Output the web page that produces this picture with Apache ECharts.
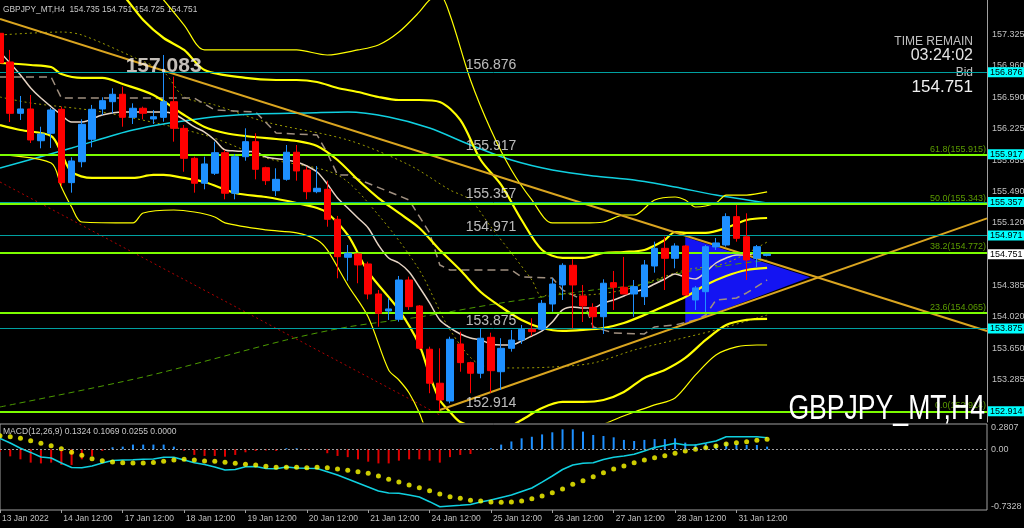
<!DOCTYPE html>
<html><head><meta charset="utf-8">
<script src="https://cdn.jsdelivr.net/npm/echarts@6/dist/echarts.min.js"></script>
<style>html,body{margin:0;padding:0;background:#000;}#c{width:1024px;height:528px;}</style>
</head><body><div id="c"></div>
<script>
const FONT = 'Liberation Sans';
// ---------- DATA ----------
const xTickLabels = ['13 Jan 2022','14 Jan 12:00','17 Jan 12:00','18 Jan 12:00','19 Jan 12:00','20 Jan 12:00','21 Jan 12:00','24 Jan 12:00','25 Jan 12:00','26 Jan 12:00','27 Jan 12:00','28 Jan 12:00','31 Jan 12:00'];
const barsPerDay = 6;
const barOpen  = [157.337,157.001,156.400,156.451,156.079,156.166,156.447,155.588,155.833,156.096,156.451,156.536,156.623,156.353,156.459,156.334,156.353,156.536,156.224,155.873,155.581,155.698,155.939,155.464,155.892,156.068,155.763,155.494,155.627,155.944,155.736,155.482,155.510,155.159,154.714,154.753,154.636,154.284,154.085,153.988,154.448,154.144,153.637,153.239,153.031,153.699,153.480,153.356,153.777,153.374,153.648,153.745,153.871,153.871,154.167,154.390,154.620,154.261,154.128,154.018,154.417,154.363,154.284,154.253,154.612,154.819,154.702,154.846,154.214,154.311,154.835,154.858,155.190,154.955,154.702,154.735];
const barHigh  = [157.376,157.142,156.603,156.615,156.243,156.462,156.478,155.885,156.330,156.498,156.588,156.693,156.712,156.517,156.478,156.439,157.083,156.829,156.263,155.892,155.892,156.068,155.971,155.924,156.224,156.166,155.775,155.756,156.029,156.029,155.775,155.783,155.611,155.198,154.858,154.761,154.662,154.331,154.237,154.495,154.487,154.155,153.667,153.648,153.784,153.843,153.491,153.883,153.831,153.766,153.863,153.921,154.000,154.214,154.468,154.644,154.690,154.390,154.175,154.456,154.554,154.718,154.448,154.682,154.897,154.955,154.878,154.858,154.378,154.858,154.940,155.229,155.327,155.229,154.858,154.751];
const barLow   = [156.954,156.298,156.322,156.052,155.990,155.994,155.549,155.471,155.768,156.002,156.380,156.400,156.243,156.275,156.330,156.275,156.302,156.068,155.716,155.471,155.510,155.678,155.393,155.393,155.845,155.627,155.561,155.432,155.611,155.611,155.393,155.464,155.072,154.468,154.440,154.410,154.222,153.901,153.980,153.960,154.097,153.628,153.122,152.914,153.004,153.374,153.122,153.297,153.129,153.160,153.609,153.699,153.792,153.855,154.077,154.214,153.883,153.956,153.883,153.816,154.097,154.319,154.018,154.155,154.534,154.331,154.585,154.263,154.097,154.073,154.800,154.838,154.897,154.448,154.597,154.725];
const barClose = [156.989,156.400,156.451,156.088,156.158,156.439,155.588,155.842,156.271,156.447,156.548,156.623,156.353,156.459,156.400,156.360,156.536,156.224,155.873,155.581,155.807,155.939,155.464,155.892,156.068,155.744,155.611,155.627,155.944,155.725,155.482,155.522,155.159,154.721,154.761,154.624,154.284,154.058,154.109,154.448,154.136,153.648,153.239,153.043,153.754,153.480,153.356,153.766,153.386,153.648,153.745,153.871,153.843,154.175,154.401,154.620,154.390,154.144,154.018,154.410,154.363,154.284,154.370,154.624,154.819,154.702,154.846,154.273,154.355,154.838,154.882,155.190,154.936,154.682,154.838,154.751];

const priceTicks = [157.325,156.960,156.590,156.225,155.855,155.490,155.120,154.385,154.020,153.650,153.285];
const tealLevels = [156.876,155.917,155.357,154.971,153.875,152.914];
const fibLevels  = [155.915,155.343,154.772,154.065,152.914];
const fibNames   = ['61.8','50.0','38.2','23.6','0.0'];
const bidPrice = 154.751;
const highMark = 157.083;
const highMarkBar = 16;
const textAnchorBar = 45;

const bandMid = [[0,156.989],[3,156.966],[5,156.942],[6,156.860],[8,156.814],[10,156.814],[12,156.743],[15,156.615],[18,156.380],[20,156.240],[22,156.170],[24,156.134],[27,156.099],[29,156.076],[31,156.017],[33,155.853],[35,155.619],[37,155.408],[39,155.233],[41,155.057],[43,154.800],[45,154.565],[47,154.308],[49,154.132],[51,153.980],[53,153.886],[55,153.851],[57,153.863],[59,153.886],[61,153.945],[63,154.038],[65,154.144],[67,154.249],[69,154.390],[71,154.495],[73,154.565],[75,154.589]];
const bandLowerInner = [[0,156.263],[2,156.205],[5,156.134],[6,155.936],[7,155.713],[9,155.643],[13,155.643],[15,155.678],[16,155.678],[18,155.643],[20,155.596],[23,155.467],[26,155.420],[29,155.350],[31,155.291],[32,155.233],[34,154.975],[36,154.542],[39,154.097],[41,153.687],[42,153.336],[43,153.043],[44,152.902],[45,152.785],[47,152.715],[49,152.692],[51,152.809],[53,152.949],[55,153.020],[57,153.020],[59,153.043],[61,153.137],[63,153.301],[65,153.394],[67,153.535],[69,153.746],[71,153.921],[73,153.980],[75,153.992]];
const bandUpperInner = [[0,157.780],[5,157.800],[8,157.980],[10,157.980],[12,157.786],[14,157.493],[16,157.282],[18,157.142],[20,156.907],[24,156.814],[27,156.790],[29,156.790],[31,156.767],[33,156.697],[35,156.650],[37,156.591],[39,156.556],[41,156.556],[43,156.533],[45,156.322],[47,155.853],[49,155.561],[51,155.151],[53,154.800],[55,154.706],[57,154.706],[59,154.764],[61,154.776],[63,154.800],[65,154.917],[66,155.010],[67,154.999],[69,154.999],[71,155.057],[73,155.151],[75,155.174]];
const bandLowerOuter = [[0,155.912],[5,155.818],[6,155.537],[7,155.303],[8,155.127],[13,155.116],[14,155.233],[17,155.268],[19,155.244],[21,155.186],[22,155.116],[26,155.034],[29,154.999],[31,154.917],[32,154.800],[34,154.390],[36,154.015],[38,153.394],[39,153.277],[40,153.125],[41,152.891],[42,152.575],[44,152.106],[50,151.872],[56,152.575],[60,152.809],[62,152.902],[64,152.985],[66,153.067],[68,153.336],[70,153.570],[72,153.664],[74,153.687],[75,153.687]];
const bandUpperOuter = [[13,158.200],[15,157.844],[16,157.727],[18,157.434],[20,157.142],[24,157.142],[29,157.142],[32,157.083],[35,157.142],[37,157.200],[39,157.352],[41,157.587],[42,157.727],[43,157.786],[44,157.551],[46,156.790],[48,156.205],[50,155.736],[52,155.385],[54,155.116],[57,155.116],[59,155.127],[61,155.209],[62,155.209],[64,155.385],[66,155.420],[67,155.385],[68,155.303],[70,155.350],[71,155.443],[73,155.443],[75,155.479]];
const maFast = [[0,157.118],[2,156.849],[3,156.697],[4,156.579],[6,156.380],[7,156.298],[8,156.298],[10,156.380],[12,156.415],[16,156.415],[17,156.392],[18,156.322],[19,156.240],[20,156.181],[21,156.088],[22,155.971],[23,155.959],[25,155.947],[26,155.889],[28,155.853],[29,155.830],[30,155.783],[31,155.713],[32,155.572],[33,155.408],[34,155.291],[35,155.174],[36,155.057],[37,154.858],[38,154.706],[39,154.647],[40,154.542],[41,154.366],[42,154.179],[43,153.980],[44,153.886],[45,153.816],[46,153.769],[47,153.746],[48,153.699],[49,153.687],[50,153.687],[51,153.734],[52,153.792],[53,153.851],[54,153.956],[55,154.097],[56,154.132],[57,154.120],[58,154.120],[59,154.179],[60,154.214],[61,154.261],[62,154.308],[63,154.343],[64,154.401],[65,154.460],[66,154.518],[67,154.483],[68,154.460],[69,154.542],[70,154.647],[71,154.706],[72,154.741],[73,154.741],[74,154.765],[75,154.753]];
const maCyan = [[0,155.760],[7,155.994],[13,156.205],[20,156.345],[25,156.392],[30,156.404],[34,156.415],[38,156.357],[42,156.228],[46,156.029],[50,155.853],[54,155.736],[58,155.666],[62,155.619],[66,155.537],[70,155.443],[75,155.350]];
const stepLine = [[0,156.825],[5,156.825],[6,156.579],[19,156.579],[21,156.439],[25,156.415],[27,156.170],[31,156.146],[32,155.935],[33,155.678],[34,155.678],[40,155.385],[42,154.999],[43,154.624],[44,154.565],[50,154.565],[51,154.483],[54,154.472],[55,154.331],[57,154.214],[58,153.898],[60,153.828],[63,153.816],[64,153.898],[66,153.921],[68,153.980],[69,154.038],[70,154.214],[72,154.237],[73,154.296],[75,154.448]];
const oliveUpper = [[0,157.317],[6,157.352],[8,157.317],[13,157.060],[16,156.884],[18,156.591],[21,156.498],[26,156.298],[34,156.088],[40,155.795],[44,155.502],[46,155.385],[48,155.069],[50,154.764],[52,154.448],[53,154.249],[54,154.296],[57,154.273],[61,154.331],[64,154.448],[67,154.565],[71,154.647],[75,154.893]];
const oliveLower = [[0,156.591],[3,156.521],[10,156.415],[20,156.146],[26,155.877],[33,155.678],[37,155.209],[41,154.565],[44,153.863],[47,153.453],[50,153.418],[54,153.429],[58,153.476],[62,153.628],[66,153.746],[70,153.863],[75,154.038]];
const maSlowGreen = [[0,152.961],[14,153.312],[28,153.746],[34,153.898],[41,154.015],[49,154.179],[58,154.331],[63,154.401],[67,154.542],[75,154.682]];
const trendDown = [[0,157.505],[96.5,153.850]];
const trendUp = [[43,152.926],[96.5,155.170]];
const trendRed = [[0,155.596],[43,152.867]];
const triangleArea = [[67,154.952],[67,153.933],[79.2,154.480]];

const macdMain = [0.140,0.080,0.013,-0.040,-0.098,-0.111,-0.175,-0.232,-0.235,-0.213,-0.175,-0.143,-0.137,-0.133,-0.128,-0.124,-0.102,-0.102,-0.137,-0.171,-0.194,-0.226,-0.264,-0.258,-0.222,-0.220,-0.245,-0.248,-0.226,-0.239,-0.243,-0.245,-0.286,-0.328,-0.379,-0.430,-0.481,-0.533,-0.558,-0.562,-0.584,-0.609,-0.669,-0.733,-0.724,-0.715,-0.705,-0.673,-0.648,-0.616,-0.584,-0.539,-0.494,-0.418,-0.341,-0.258,-0.201,-0.179,-0.171,-0.130,-0.102,-0.086,-0.064,-0.022,0.023,0.049,0.077,0.055,0.055,0.080,0.106,0.161,0.161,0.161,0.161,0.148];
const macdSignal = [0.174,0.161,0.140,0.110,0.077,0.046,0.008,-0.038,-0.077,-0.120,-0.146,-0.162,-0.171,-0.175,-0.175,-0.167,-0.153,-0.137,-0.128,-0.137,-0.150,-0.153,-0.166,-0.179,-0.192,-0.200,-0.217,-0.230,-0.230,-0.230,-0.235,-0.230,-0.235,-0.251,-0.268,-0.286,-0.306,-0.341,-0.383,-0.418,-0.456,-0.490,-0.529,-0.571,-0.605,-0.626,-0.651,-0.660,-0.673,-0.677,-0.673,-0.660,-0.631,-0.596,-0.554,-0.507,-0.447,-0.401,-0.350,-0.299,-0.252,-0.213,-0.171,-0.137,-0.107,-0.082,-0.051,-0.022,0.000,0.020,0.042,0.067,0.084,0.097,0.115,0.128];
const macdHist = [-0.03,-0.09,-0.128,-0.17,-0.18,-0.17,-0.2,-0.2,-0.128,-0.085,-0.02,0.026,0.034,0.06,0.06,0.06,0.06,0.034,-0.017,-0.072,-0.085,-0.085,-0.094,-0.072,-0.038,-0.02,-0.015,-0.02,0.013,0.013,-0.005,-0.005,-0.05,-0.085,-0.1,-0.128,-0.158,-0.18,-0.18,-0.145,-0.128,-0.128,-0.145,-0.17,-0.1,-0.072,-0.06,-0.005,0.013,0.06,0.1,0.14,0.16,0.19,0.217,0.255,0.255,0.226,0.183,0.17,0.153,0.12,0.106,0.12,0.13,0.13,0.14,0.085,0.064,0.077,0.064,0.085,0.068,0.055,0.055,0.034];
const macdTicks = [0.2807, 0, -0.7328];

// ---------- BUILD ----------
const idxPairs = arr => arr.map((v, i) => [i, v]);
const candleData = barOpen.map((o, i) => [i, o, barClose[i], barLow[i], barHigh[i]]);
const xTickIdx = xTickLabels.map((_, k) => k * barsPerDay);
const CLEAR = 'rgba(0,0,0,0)';

function lineSeries(name, data, color, width, type, smooth, z) {
  return { type: 'line', name, data, xAxisIndex: 0, yAxisIndex: 0, symbol: 'none', smooth: smooth,
    lineStyle: { color, width, type }, z: z || 3, silent: true, clip: true };
}

const scaleMarks = priceTicks.map(v => ({ yAxis: v, lineStyle: { color: CLEAR, width: 0 },
  label: { show: true, position: 'end', distance: 5, formatter: v.toFixed(3), color: '#c0c0c0', fontSize: 9, fontFamily: FONT } }));

const levelMarks = [].concat(
  tealLevels.map(v => ({ yAxis: v, lineStyle: { color: '#00a0a0', width: 1, type: 'solid' },
    label: { show: true, position: 'end', distance: 1, formatter: v.toFixed(3), backgroundColor: '#00ffff',
      color: '#000', fontSize: 9, fontFamily: FONT, padding: [1, 3, 0, 2] } })),
  fibLevels.map((v, k) => ({ yAxis: v, lineStyle: { color: '#7cfc00', width: 2, type: 'solid' },
    label: { show: true, position: 'insideEndTop', distance: 1, formatter: fibNames[k] + '(' + v.toFixed(3) + ')',
      color: '#5c9c00', fontSize: 9, fontFamily: FONT } })),
  [{ yAxis: bidPrice, lineStyle: { color: CLEAR, width: 0 },
    label: { show: true, position: 'end', distance: 1, formatter: bidPrice.toFixed(3), backgroundColor: '#ffffff',
      color: '#000', fontSize: 9, fontFamily: FONT, padding: [1, 3, 0, 2] } }]
);

const chart = echarts.init(document.getElementById('c'), null, { renderer: 'canvas' });
chart.setOption({
  backgroundColor: '#000000',
  animation: false,
  grid: [
    { left: 0, top: 0, width: 987, height: 422, outerBoundsMode: 'none' },
    { left: 0, top: 424, width: 987, height: 86, show: true, borderColor: '#a0a0a0', borderWidth: 1, outerBoundsMode: 'none' }
  ],
  xAxis: [
    { type: 'value', gridIndex: 0, min: 0, max: 96.5, show: false },
    { type: 'value', gridIndex: 1, min: 0, max: 96.5, axisLine: { show: false, onZero: false }, splitLine: { show: false },
      axisTick: { show: true, customValues: xTickIdx, length: 3, lineStyle: { color: '#a0a0a0' } },
      axisLabel: { customValues: xTickIdx, formatter: v => xTickLabels[Math.round(v / barsPerDay)] || '',
        color: '#c0c0c0', fontSize: 8.5, fontFamily: FONT, align: 'left', margin: 4, padding: [0, 0, 0, 2] } }
  ],
  yAxis: [
    { type: 'value', gridIndex: 0, position: 'right', min: 152.785, max: 157.727,
      axisLine: { show: true, onZero: false, lineStyle: { color: '#a0a0a0' } },
      axisTick: { show: false }, axisLabel: { show: false },
      splitLine: { show: false } },
    { type: 'value', gridIndex: 1, position: 'right', min: -0.775, max: 0.323,
      axisLine: { show: false, onZero: false }, axisTick: { show: false }, splitLine: { show: false },
      axisLabel: { customValues: macdTicks, formatter: v => (v === 0 ? '0.00' : String(v)), color: '#c0c0c0', fontSize: 9, fontFamily: FONT, margin: 4 } }
  ],
  graphic: [
    { type: 'text', x: 3, y: 9, scaleX: 0.88, style: { text: 'GBPJPY_MT,H4  154.735 154.751 154.725 154.751', fill: '#c8c8c8', fontSize: 9.5, fontFamily: FONT, verticalAlign: 'middle' } },
    { type: 'text', x: 3, y: 431, scaleX: 0.9, style: { text: 'MACD(12,26,9) 0.1324 0.1069 0.0255 0.0000', fill: '#c8c8c8', fontSize: 9.5, fontFamily: FONT, verticalAlign: 'middle' } },
    { type: 'text', x: 973, y: 42, style: { text: 'TIME REMAIN', align: 'right', verticalAlign: 'middle', fill: '#c0c0c0', fontSize: 12, fontFamily: FONT } },
    { type: 'text', x: 973, y: 56, style: { text: '03:24:02', align: 'right', verticalAlign: 'middle', fill: '#e4e4e4', fontSize: 16, fontFamily: FONT } },
    { type: 'text', x: 973, y: 73, style: { text: 'Bid', align: 'right', verticalAlign: 'middle', fill: '#c0c0c0', fontSize: 12, fontFamily: FONT } },
    { type: 'text', x: 973, y: 87, style: { text: '154.751', align: 'right', verticalAlign: 'middle', fill: '#f0f0f0', fontSize: 17, fontFamily: FONT } },
    { type: 'text', x: 985, y: 409, scaleX: 0.76, z: 50, style: { text: 'GBPJPY_MT,H4', align: 'right', verticalAlign: 'middle', fill: '#ffffff', fontSize: 35, fontFamily: FONT } }
  ],
  series: [
    { type: 'custom', name: 'triangle', xAxisIndex: 0, yAxisIndex: 0, z: 1, silent: true,
      data: [triangleArea[0]],
      renderItem: (params, api) => ({ type: 'polygon', shape: { points: triangleArea.map(p => api.coord(p)) }, style: { fill: '#1414f2' } }) },
    { type: 'line', name: 'priceScale', xAxisIndex: 0, yAxisIndex: 0, data: [], z: 2,
      markLine: { symbol: ['none', 'none'], silent: true, animation: false, data: scaleMarks } },
    { type: 'line', name: 'levels', xAxisIndex: 0, yAxisIndex: 0, data: [], z: 2,
      markLine: { symbol: ['none', 'none'], silent: true, animation: false, data: levelMarks } },
    lineSeries('maSlow', maSlowGreen, '#4c9a00', 1, [6, 4], 0.3, 3),
    lineSeries('oliveLower', oliveLower, '#9a9a00', 1, [2, 3], 0.3, 3),
    lineSeries('oliveUpper', oliveUpper, '#9a9a00', 1, [2, 3], 0.3, 3),
    lineSeries('step', stepLine, '#a09080', 1.5, [8, 5], false, 3),
    lineSeries('cyan', maCyan, '#10d0e0', 1.5, 'solid', 0.3, 3),
    lineSeries('trendRed', trendRed, '#b00000', 1, [2, 3], false, 3),
    lineSeries('upperOuter', bandUpperOuter, '#ffff00', 1.2, 'solid', 0.3, 4),
    lineSeries('lowerOuter', bandLowerOuter, '#ffff00', 1.2, 'solid', 0.3, 4),
    lineSeries('upperInner', bandUpperInner, '#ffff00', 2.2, 'solid', 0.3, 4),
    lineSeries('lowerInner', bandLowerInner, '#ffff00', 2.2, 'solid', 0.3, 4),
    lineSeries('middle', bandMid, '#ffff00', 2.2, 'solid', 0.3, 4),
    lineSeries('maFast', maFast, '#e6d4c4', 1.5, 'solid', 0.3, 4),
    lineSeries('trendDown', trendDown, '#daa520', 2, 'solid', false, 4),
    lineSeries('trendUp', trendUp, '#daa520', 2, 'solid', false, 4),
    { type: 'candlestick', name: 'GBPJPY', xAxisIndex: 0, yAxisIndex: 0, data: candleData, barWidth: 7, z: 5, silent: true,
      itemStyle: { color: '#1e90ff', color0: '#ff0000', borderColor: '#1e90ff', borderColor0: '#ff0000', borderWidth: 1 } },
    { type: 'scatter', name: 'levelText', xAxisIndex: 0, yAxisIndex: 0, z: 6, silent: true,
      data: tealLevels.map(v => [textAnchorBar, v]), symbolSize: 1, itemStyle: { color: CLEAR },
      label: { show: true, position: 'right', distance: 5, offset: [0, -8], formatter: p => p.value[1].toFixed(3),
        color: '#e8e8e8', fontSize: 14, fontFamily: FONT } },
    { type: 'scatter', name: 'highText', xAxisIndex: 0, yAxisIndex: 0, z: 7, silent: true,
      data: [[highMarkBar, highMark]], symbolSize: 1, itemStyle: { color: CLEAR },
      label: { show: true, position: 'inside', offset: [0, 11], formatter: highMark.toFixed(3),
        color: '#f4eee6', fontSize: 21, fontWeight: 'bold', fontFamily: FONT } },
    { type: 'bar', name: 'hist', xAxisIndex: 1, yAxisIndex: 1, data: idxPairs(macdHist), barWidth: 2, z: 2, silent: true,
      itemStyle: { color: p => (p.value[1] < 0 ? '#e00000' : '#1e90ff') },
      markLine: { symbol: ['none', 'none'], silent: true, label: { show: false },
        lineStyle: { color: '#a0a0a0', width: 1, type: [2, 2] }, data: [{ yAxis: 0 }] } },
    { type: 'line', name: 'macd', xAxisIndex: 1, yAxisIndex: 1, data: idxPairs(macdMain), symbol: 'none',
      lineStyle: { color: '#10d0e0', width: 1.5 }, z: 3, silent: true },
    { type: 'scatter', name: 'signal', xAxisIndex: 1, yAxisIndex: 1, data: idxPairs(macdSignal), symbolSize: 5,
      itemStyle: { color: '#ffff00' }, z: 4, silent: true }
  ]
});
</script></body></html>
